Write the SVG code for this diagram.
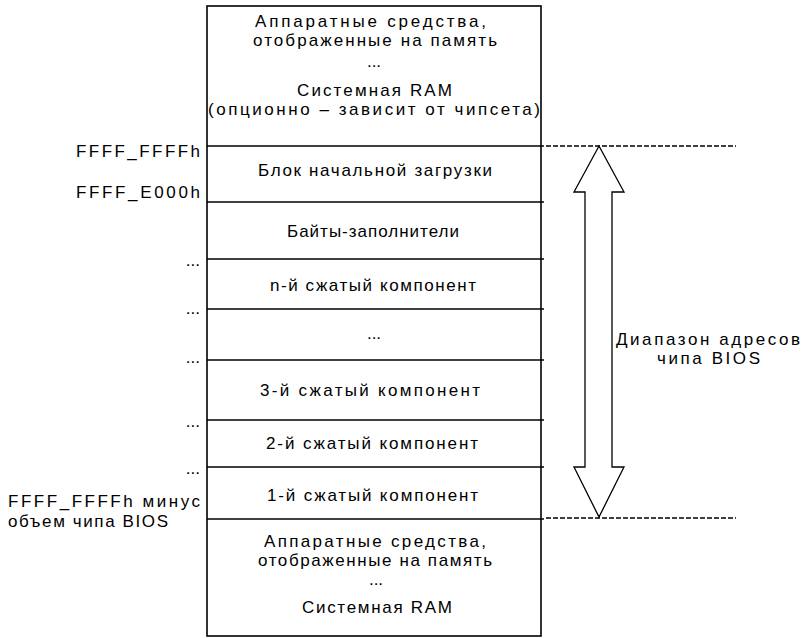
<svg xmlns="http://www.w3.org/2000/svg" width="806" height="638" viewBox="0 0 806 638">
<style>
  .t { font-family: "Liberation Sans", Arial, sans-serif; font-size: 17px; fill: #000; }
  .a { font-family: "Liberation Sans", Arial, sans-serif; font-size: 17px; fill: #000; }
  .c { text-anchor: middle; }
  .r { text-anchor: end; }
  .div { stroke: #000; stroke-width: 1.3; fill: none; }
  .dash { stroke: #000; stroke-width: 1.3; stroke-dasharray: 5 2; fill: none; }
  .box { stroke: #000; stroke-width: 1.6; fill: #fff; }
</style>
<rect width="806" height="638" fill="#fff"/>

<g id="memory-map">
  <rect class="box" x="207" y="6" width="334" height="630"/>
</g>

<g id="region-top">
  <text class="t" x="255" y="27" textLength="231" lengthAdjust="spacing">Аппаратные средства,</text>
  <text class="t" x="253" y="46" textLength="244" lengthAdjust="spacing">отображенные на память</text>
  <text class="t c" x="374" y="67">...</text>
  <text class="t" x="297" y="96" textLength="155" lengthAdjust="spacing">Системная RAM</text>
  <text class="t" x="208" y="115" textLength="332" lengthAdjust="spacing">(опционно – зависит от чипсета)</text>
</g>

<g id="dividers">
  <line class="div" x1="207" y1="146" x2="544" y2="146"/>
  <line class="div" x1="207" y1="202" x2="544" y2="202"/>
  <line class="div" x1="207" y1="259" x2="544" y2="259"/>
  <line class="div" x1="207" y1="309" x2="544" y2="309"/>
  <line class="div" x1="207" y1="360" x2="544" y2="360"/>
  <line class="div" x1="207" y1="420" x2="544" y2="420"/>
  <line class="div" x1="207" y1="467" x2="544" y2="467"/>
  <line class="div" x1="207" y1="519" x2="544" y2="519"/>
</g>

<g id="boot-block"><text class="t" x="258" y="176" textLength="234" lengthAdjust="spacing">Блок начальной загрузки</text></g>
<g id="pad-bytes"><text class="t" x="287" y="237" textLength="172" lengthAdjust="spacing">Байты-заполнители</text></g>
<g id="comp-n"><text class="t" x="270" y="291" textLength="206" lengthAdjust="spacing">n-й сжатый компонент</text></g>
<g id="comp-dots"><text class="t c" x="374" y="339">...</text></g>
<g id="comp-3"><text class="t" x="260" y="396" textLength="220" lengthAdjust="spacing">3-й сжатый компонент</text></g>
<g id="comp-2"><text class="t" x="266" y="449" textLength="212" lengthAdjust="spacing">2-й сжатый компонент</text></g>
<g id="comp-1"><text class="t" x="267" y="501" textLength="211" lengthAdjust="spacing">1-й сжатый компонент</text></g>

<g id="region-bottom">
  <text class="t" x="264" y="547" textLength="222" lengthAdjust="spacing">Аппаратные средства,</text>
  <text class="t" x="258" y="566" textLength="234" lengthAdjust="spacing">отображенные на память</text>
  <text class="t c" x="376" y="585">...</text>
  <text class="t" x="302" y="613" textLength="150" lengthAdjust="spacing">Системная RAM</text>
</g>

<g id="addr-labels">
  <text class="a" x="76" y="157" textLength="124" lengthAdjust="spacing">FFFF_FFFFh</text>
  <text class="a" x="76" y="198" textLength="124" lengthAdjust="spacing">FFFF_E000h</text>
  <text class="t r" x="200" y="266">...</text>
  <text class="t r" x="200" y="314">...</text>
  <text class="t r" x="200" y="363">...</text>
  <text class="t r" x="200" y="427">...</text>
  <text class="t r" x="200" y="474">...</text>
  <text class="a" x="8" y="507" textLength="192" lengthAdjust="spacing">FFFF_FFFFh минус</text>
  <text class="t" x="8" y="527" textLength="160" lengthAdjust="spacing">объем чипа BIOS</text>
</g>

<g id="connectors">
  <line class="dash" x1="546" y1="146" x2="736" y2="146"/>
  <line class="dash" x1="546" y1="518" x2="736" y2="518"/>
  <path d="M599,146 L624,192 L612,192 L612,467 L624,467 L599,517 L574,467 L585,467 L585,192 L574,192 Z" fill="#fff" stroke="#000" stroke-width="1.3" stroke-linejoin="miter"/>
</g>

<g id="range-label">
  <text class="t" x="616" y="345" textLength="184" lengthAdjust="spacing">Диапазон адресов</text>
  <text class="t" x="657" y="364" textLength="103" lengthAdjust="spacing">чипа BIOS</text>
</g>
</svg>
